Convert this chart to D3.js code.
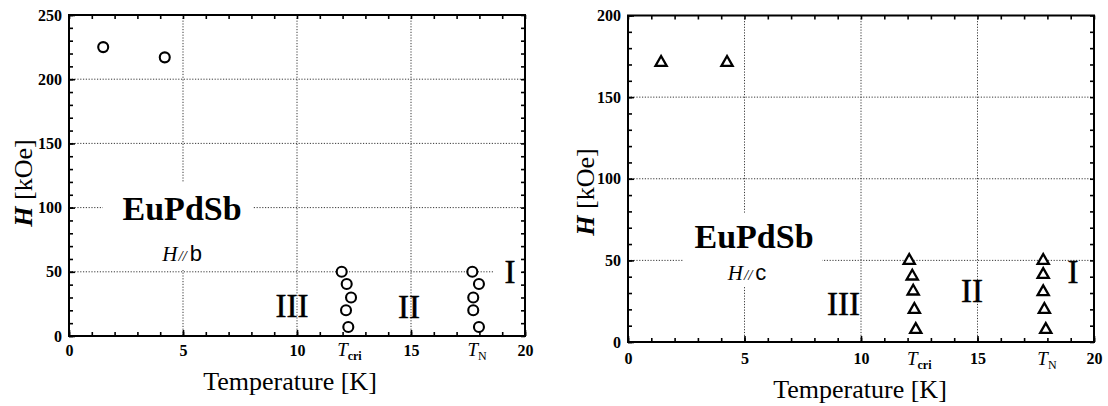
<!DOCTYPE html>
<html>
<head>
<meta charset="utf-8">
<script src="https://cdn.jsdelivr.net/npm/d3@7"></script>
<style>
  body { margin: 0; background: #fff; }
  svg { display: block; }
  .grid line { stroke: #222; stroke-width: 0.9; stroke-dasharray: 1.2, 1.6; }
  .tick line { stroke: #000; stroke-width: 1.6; }
  text { font-family: 'Liberation Serif', 'Times New Roman', Times, serif; fill: #000; }
</style>
</head>
<body>
<svg id="chart" width="1108" height="406"></svg>
<script>
// axis ticks
const xTicks = [0, 5, 10, 15, 20];
const yTicksB = [0, 50, 100, 150, 200, 250];
const yTicksC = [0, 50, 100, 150, 200];

// H // b : circles (temperature K, field kOe)
const tempB = [1.5, 4.2, 11.96, 12.18, 12.37, 12.15, 12.25, 17.69, 17.98, 17.73, 17.73, 17.98];
const fieldB = [225, 217, 50, 40.5, 30, 20, 7, 50, 40.5, 30, 20, 7];

// H // c : triangles
const tempC = [1.42, 4.25, 12.07, 12.2, 12.24, 12.29, 12.35, 17.82, 17.82, 17.82, 17.87, 17.93];
const fieldC = [172, 172, 50.7, 41.1, 31.9, 20.7, 8.4, 50.7, 42.1, 31.5, 20.7, 8.4];

const regionNames = ['III', 'II', 'I'];
const compound = 'EuPdSb';

const svg = d3.select('#chart');

const panels = [
  {
    left: 69, right: 525, top: 15, bottom: 336, yMax: 250, yTicks: yTicksB,
    temps: tempB, fields: fieldB, marker: 'circle', dir: 'b',
    xPad: 9, yPad: 7,
    name: [4.96, 90.3], dirPos: [4.96, 58.4],
    regions: [[9.78, 14.8], [14.91, 14], [19.34, 41.3]],
    tcri: [12.3, 356], tn: [17.9, 356],
    yTitle: [32, 183], xTitle: [290, 390],
    // white boxes behind the labels, in data units [t0, t1, h0, h1]
    masks: [[1.49, 8.07, 51.4, 119.2], [18.6, 19.85, 36, 63]]
  },
  {
    left: 628, right: 1094, top: 15.5, bottom: 342, yMax: 200, yTicks: yTicksC,
    temps: tempC, fields: fieldC, marker: 'triangle', dir: 'c',
    xPad: 11, yPad: 7,
    name: [5.41, 57.7], dirPos: [5.11, 38],
    regions: [[9.25, 16.6], [14.76, 24.5], [19.1, 36.2]],
    tcri: [12.5, 365], tn: [17.98, 365],
    yTitle: [594, 192], xTitle: [860, 398],
    masks: [[2.36, 8.33, 33.7, 79.1]]
  }
];

function styleLabels(sel) {
  sel.select('.domain').remove();
  sel.attr('font-family', null).attr('font-size', null);
  sel.selectAll('text')
    .style('font-size', '16px')
    .style('font-weight', 'bold');
}

function drawPanel(p) {
  const x = d3.scaleLinear().domain([0, 20]).range([p.left, p.right]);
  const y = d3.scaleLinear().domain([0, p.yMax]).range([p.bottom, p.top]);
  const g = svg.append('g');

  // dotted grid
  const grid = g.append('g').attr('class', 'grid');
  grid.selectAll('line.v')
    .data(xTicks.slice(1, -1))
    .join('line')
    .attr('class', 'v')
    .attr('x1', d => x(d)).attr('x2', d => x(d))
    .attr('y1', p.top).attr('y2', p.bottom);
  grid.selectAll('line.h')
    .data(p.yTicks.slice(1, -1))
    .join('line')
    .attr('class', 'h')
    .attr('x1', p.left).attr('x2', p.right)
    .attr('y1', d => y(d)).attr('y2', d => y(d));

  g.selectAll('rect.mask')
    .data(p.masks)
    .join('rect')
    .attr('class', 'mask')
    .attr('x', d => x(d[0]))
    .attr('width', d => x(d[1]) - x(d[0]))
    .attr('y', d => y(d[3]))
    .attr('height', d => y(d[2]) - y(d[3]))
    .attr('fill', '#fff');

  // inward ticks on all four sides
  const minorX = d3.range(0, 21, 1);
  const minorY = d3.range(0, p.yMax + 1, 10);

  g.append('g')
    .attr('transform', `translate(0,${p.bottom})`)
    .call(d3.axisBottom(x).tickValues(minorX).tickFormat('').tickSize(-4))
    .call(styleLabels);
  g.append('g')
    .attr('transform', `translate(0,${p.bottom})`)
    .call(d3.axisBottom(x).tickValues(xTicks).tickSize(-6).tickPadding(p.xPad).tickFormat(d3.format('d')))
    .call(styleLabels);
  g.append('g')
    .attr('transform', `translate(0,${p.top})`)
    .call(d3.axisTop(x).tickValues(minorX).tickFormat('').tickSize(-4))
    .call(styleLabels);

  g.append('g')
    .attr('transform', `translate(${p.left},0)`)
    .call(d3.axisLeft(y).tickValues(minorY).tickFormat('').tickSize(-4))
    .call(styleLabels);
  g.append('g')
    .attr('transform', `translate(${p.left},0)`)
    .call(d3.axisLeft(y).tickValues(p.yTicks).tickSize(-6).tickPadding(p.yPad).tickFormat(d3.format('d')))
    .call(styleLabels);
  g.append('g')
    .attr('transform', `translate(${p.right},0)`)
    .call(d3.axisRight(y).tickValues(minorY).tickFormat('').tickSize(-4))
    .call(styleLabels);

  // frame
  g.append('rect')
    .attr('x', p.left).attr('y', p.top)
    .attr('width', p.right - p.left).attr('height', p.bottom - p.top)
    .attr('fill', 'none').attr('stroke', '#000').attr('stroke-width', 2);

  // markers
  const pts = p.temps.map((t, i) => ({ t, h: p.fields[i] }));
  if (p.marker === 'circle') {
    g.selectAll('circle.pt')
      .data(pts)
      .join('circle')
      .attr('class', 'pt')
      .attr('cx', d => x(d.t))
      .attr('cy', d => y(d.h))
      .attr('r', 5)
      .attr('fill', '#fff')
      .attr('stroke', '#000')
      .attr('stroke-width', 2.1);
  } else {
    g.selectAll('path.pt')
      .data(pts)
      .join('path')
      .attr('class', 'pt')
      .attr('transform', d => `translate(${x(d.t)},${y(d.h)})`)
      .attr('d', 'M0,-5.2L5.6,4.6L-5.6,4.6Z')
      .attr('fill', '#fff')
      .attr('stroke', '#000')
      .attr('stroke-width', 2.3)
      .attr('stroke-linejoin', 'miter');
  }

  // compound and field direction
  g.append('text')
    .attr('x', x(p.name[0])).attr('y', y(p.name[1]))
    .attr('text-anchor', 'middle')
    .style('font-size', '34px').style('font-weight', 'bold')
    .text(compound);

  const dt = g.append('text')
    .attr('x', x(p.dirPos[0])).attr('y', y(p.dirPos[1]))
    .attr('text-anchor', 'middle')
    .style('font-size', '21px');
  dt.append('tspan').style('font-style', 'italic').text('H');
  dt.append('tspan').attr('dx', 1).style('font-style', 'italic').style('font-size', '15px').text('//');
  dt.append('tspan').attr('dx', 3).style('font-family', "'Liberation Sans', Arial, sans-serif").style('font-size', '22px').text(p.dir);

  // phase regions
  g.selectAll('text.region')
    .data(p.regions)
    .join('text')
    .attr('class', 'region')
    .attr('x', d => x(d[0])).attr('y', d => y(d[1]))
    .attr('text-anchor', 'middle')
    .style('font-size', '33px')
    .attr('stroke', '#000').attr('stroke-width', 0.5)
    .text((d, i) => regionNames[i]);

  // T_cri and T_N markers under the axis
  const tc = g.append('text')
    .attr('x', x(p.tcri[0])).attr('y', p.tcri[1])
    .attr('text-anchor', 'middle')
    .style('font-size', '19px');
  tc.append('tspan').style('font-style', 'italic').text('T');
  tc.append('tspan').attr('dy', 4).style('font-size', '12px').style('font-weight', 'bold').text('cri');

  const tn = g.append('text')
    .attr('x', x(p.tn[0])).attr('y', p.tn[1])
    .attr('text-anchor', 'middle')
    .style('font-size', '19px');
  tn.append('tspan').style('font-style', 'italic').text('T');
  tn.append('tspan').attr('dy', 4).style('font-size', '12px').text('N');

  // axis titles
  const yt = g.append('text')
    .attr('transform', `translate(${p.yTitle[0]},${p.yTitle[1]}) rotate(-90)`)
    .attr('text-anchor', 'middle')
    .style('font-size', '26px');
  yt.append('tspan').style('font-style', 'italic').style('font-weight', 'bold').text('H');
  yt.append('tspan').text(' [kOe]');

  g.append('text')
    .attr('x', p.xTitle[0]).attr('y', p.xTitle[1])
    .attr('text-anchor', 'middle')
    .style('font-size', '26px')
    .text('Temperature [K]');
}

panels.forEach(drawPanel);
</script>
</body>
</html>
